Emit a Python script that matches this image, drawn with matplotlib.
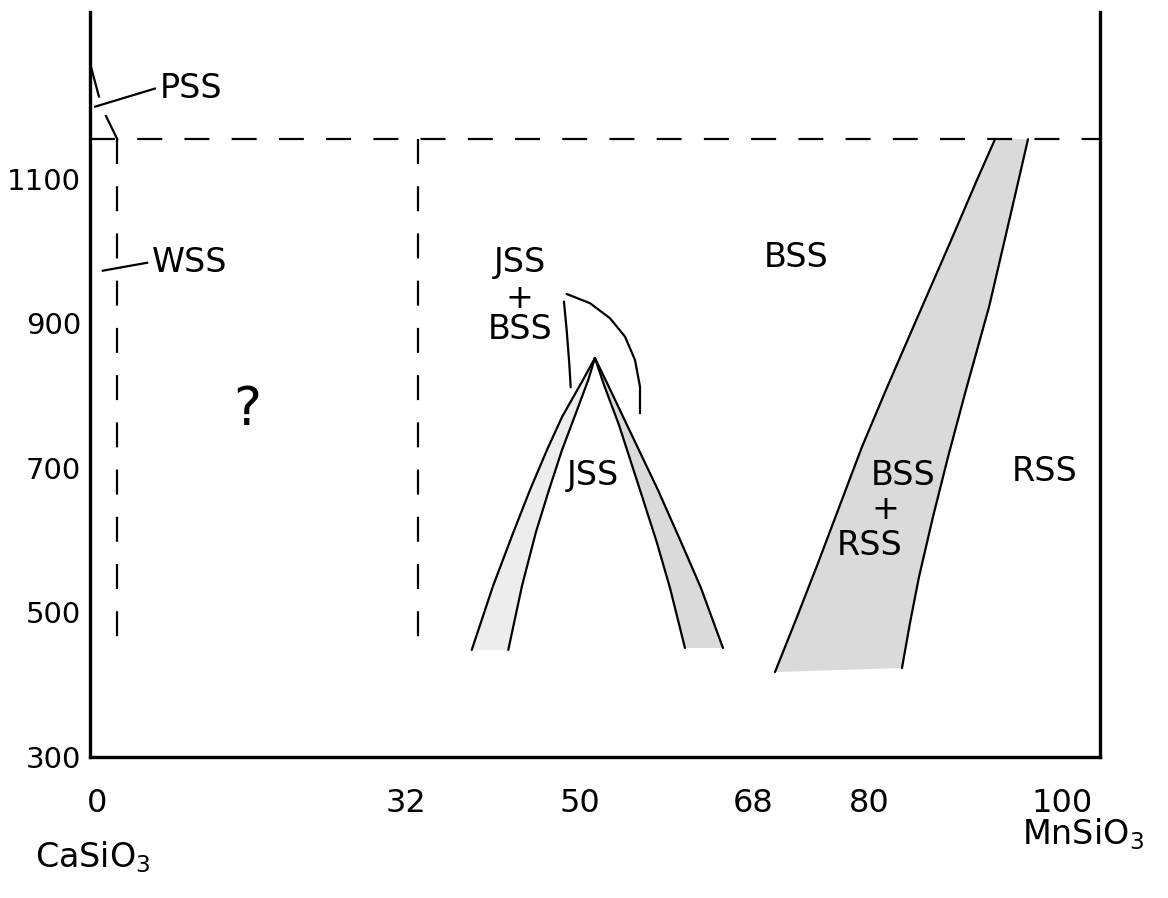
import numpy as np
import matplotlib.pyplot as plt

# composition (mol % MnSiO3) and temperature (deg C)
x_ticks = [0, 32, 50, 68, 80, 100]
y_ticks = [300, 500, 700, 900, 1100]

t_dash = 1155          # upper dashed isotherm
t_dash_bottom = 445    # lower end of the vertical dashed lines
x_dash_left = 2.1
x_dash_32 = 33.3

# PSS boundary (two pieces around the leader)
pss_x1 = [-0.6, 0.2]
pss_t1 = [1254, 1214]
pss_x2 = [0.93, 2.1]
pss_t2 = [1187, 1155]
pss_lead_x = [-0.2, 6.0]
pss_lead_t = [1200, 1225]
wss_lead_x = [0.6, 5.2]
wss_lead_t = [973, 984]

# JSS dome
dome_t_left = [852.2, 821.8, 770.6, 724.9, 669.6, 611.4, 536.7, 448.1]
outer_left_x = [51.6, 50.36, 48.19, 46.63, 44.87, 43.16, 41.04, 38.83]
inner_left_x = [51.6, 50.91, 49.48, 48.19, 46.84, 45.49, 44.04, 42.62]
dome_t_right = [852.2, 814.9, 759.5, 669.6, 597.6, 533.9, 450.9]
inner_right_x = [51.6, 52.54, 54.09, 56.27, 58.0, 59.38, 60.93]
outer_right_x = [51.6, 52.95, 54.92, 58.13, 60.52, 62.59, 64.87]

# JSS + BSS boundaries above the dome
arc_x = [48.67, 51.09, 53.16, 54.72, 55.75, 56.27, 56.27]
arc_t = [940.8, 928.0, 907.2, 881.7, 849.5, 812.5, 775.7]
vline_x = [48.39, 48.67, 48.94, 49.09]
vline_t = [930.2, 891.0, 844.9, 811.7]

# BSS + RSS band
band_left_t = [1155, 1098.6, 1011.4, 922.8, 859.2, 808.0, 729.1, 637.7, 568.5, 493.8, 417.6]
band_left_x = [93.06, 91.19, 88.39, 85.49, 83.42, 81.76, 79.27, 76.68, 74.72, 72.54, 70.26]
band_right_t = [1155, 1088.9, 1011.4, 922.8, 808.0, 715.2, 632.2, 549.1, 485.5, 423.2]
band_right_x = [96.48, 95.34, 93.99, 92.44, 90.05, 88.19, 86.63, 85.18, 84.25, 83.42]

W, H = 1168, 898
fig = plt.figure(figsize=(W / 100, H / 100), dpi=100)
ax = fig.add_axes([90 / W, (H - 757) / H, (1100 - 90) / W, (757 - 12) / H])
ax.set_xlim(-0.725, 103.94)
ax.set_ylim(300, 1331)

lw = 1.6
dash = (0, (18 / lw, 16 / lw))
ax.plot([-0.725, 103.94], [t_dash, t_dash], color="k", lw=lw, linestyle=dash)
ax.plot([x_dash_left, x_dash_left], [t_dash, t_dash_bottom], color="k", lw=lw, linestyle=dash)
ax.plot([x_dash_32, x_dash_32], [t_dash, t_dash_bottom - 8], color="k", lw=lw, linestyle=dash)

ax.plot(pss_x1, pss_t1, color="k", lw=lw)
ax.plot(pss_x2, pss_t2, color="k", lw=lw)
ax.plot(pss_lead_x, pss_lead_t, color="k", lw=lw)
ax.plot(wss_lead_x, wss_lead_t, color="k", lw=lw)

fill = "#dadada"
ax.fill(outer_left_x + inner_left_x[::-1], dome_t_left + dome_t_left[::-1],
        color="#ededed", lw=0)
ax.fill(inner_right_x + outer_right_x[::-1], dome_t_right + dome_t_right[::-1],
        color=fill, lw=0)
ax.fill(band_left_x + band_right_x[::-1], band_left_t + band_right_t[::-1],
        color=fill, lw=0)
for xs, ts in [(outer_left_x, dome_t_left), (inner_left_x, dome_t_left),
               (inner_right_x, dome_t_right), (outer_right_x, dome_t_right),
               (arc_x, arc_t), (vline_x, vline_t),
               (band_left_x, band_left_t), (band_right_x, band_right_t)]:
    ax.plot(xs, ts, color="k", lw=lw, solid_joinstyle="round", solid_capstyle="round")

fs = 24
ax.text(6.5, 1225, "PSS", fontsize=fs, va="center", ha="left")
ax.text(5.7, 984, "WSS", fontsize=fs, va="center", ha="left")
ax.text(15.6, 780, "?", fontsize=38, va="center", ha="center")
ax.text(43.8, 985, "JSS", fontsize=fs, va="center", ha="center")
ax.text(43.8, 935, "+", fontsize=fs, va="center", ha="center")
ax.text(43.8, 891, "BSS", fontsize=fs, va="center", ha="center")
ax.text(72.5, 991, "BSS", fontsize=fs, va="center", ha="center")
ax.text(98.2, 695, "RSS", fontsize=fs, va="center", ha="center")
ax.text(51.4, 690, "JSS", fontsize=fs, va="center", ha="center")
ax.text(83.5, 690, "BSS", fontsize=fs, va="center", ha="center")
ax.text(81.7, 642, "+", fontsize=fs, va="center", ha="center")
ax.text(80.1, 593, "RSS", fontsize=fs, va="center", ha="center")

ax.set_xticks(x_ticks)
ax.set_xticklabels([str(v) for v in x_ticks])
ax.set_yticks(y_ticks)
ax.set_yticklabels([str(v) for v in y_ticks])
ax.tick_params(axis="x", length=0, pad=22, labelsize=23)
ax.tick_params(axis="y", length=0, pad=6.5, labelsize=21)

ax.spines["top"].set_visible(False)
for s in ["left", "right", "bottom"]:
    ax.spines[s].set_linewidth(2.4)

fig.text(35 / W, (H - 857) / H, r"CaSiO$_3$", fontsize=fs, va="center", ha="left")
fig.text(1022 / W, (H - 834) / H, r"MnSiO$_3$", fontsize=fs, va="center", ha="left")

fig.savefig("out.png", dpi=100)
